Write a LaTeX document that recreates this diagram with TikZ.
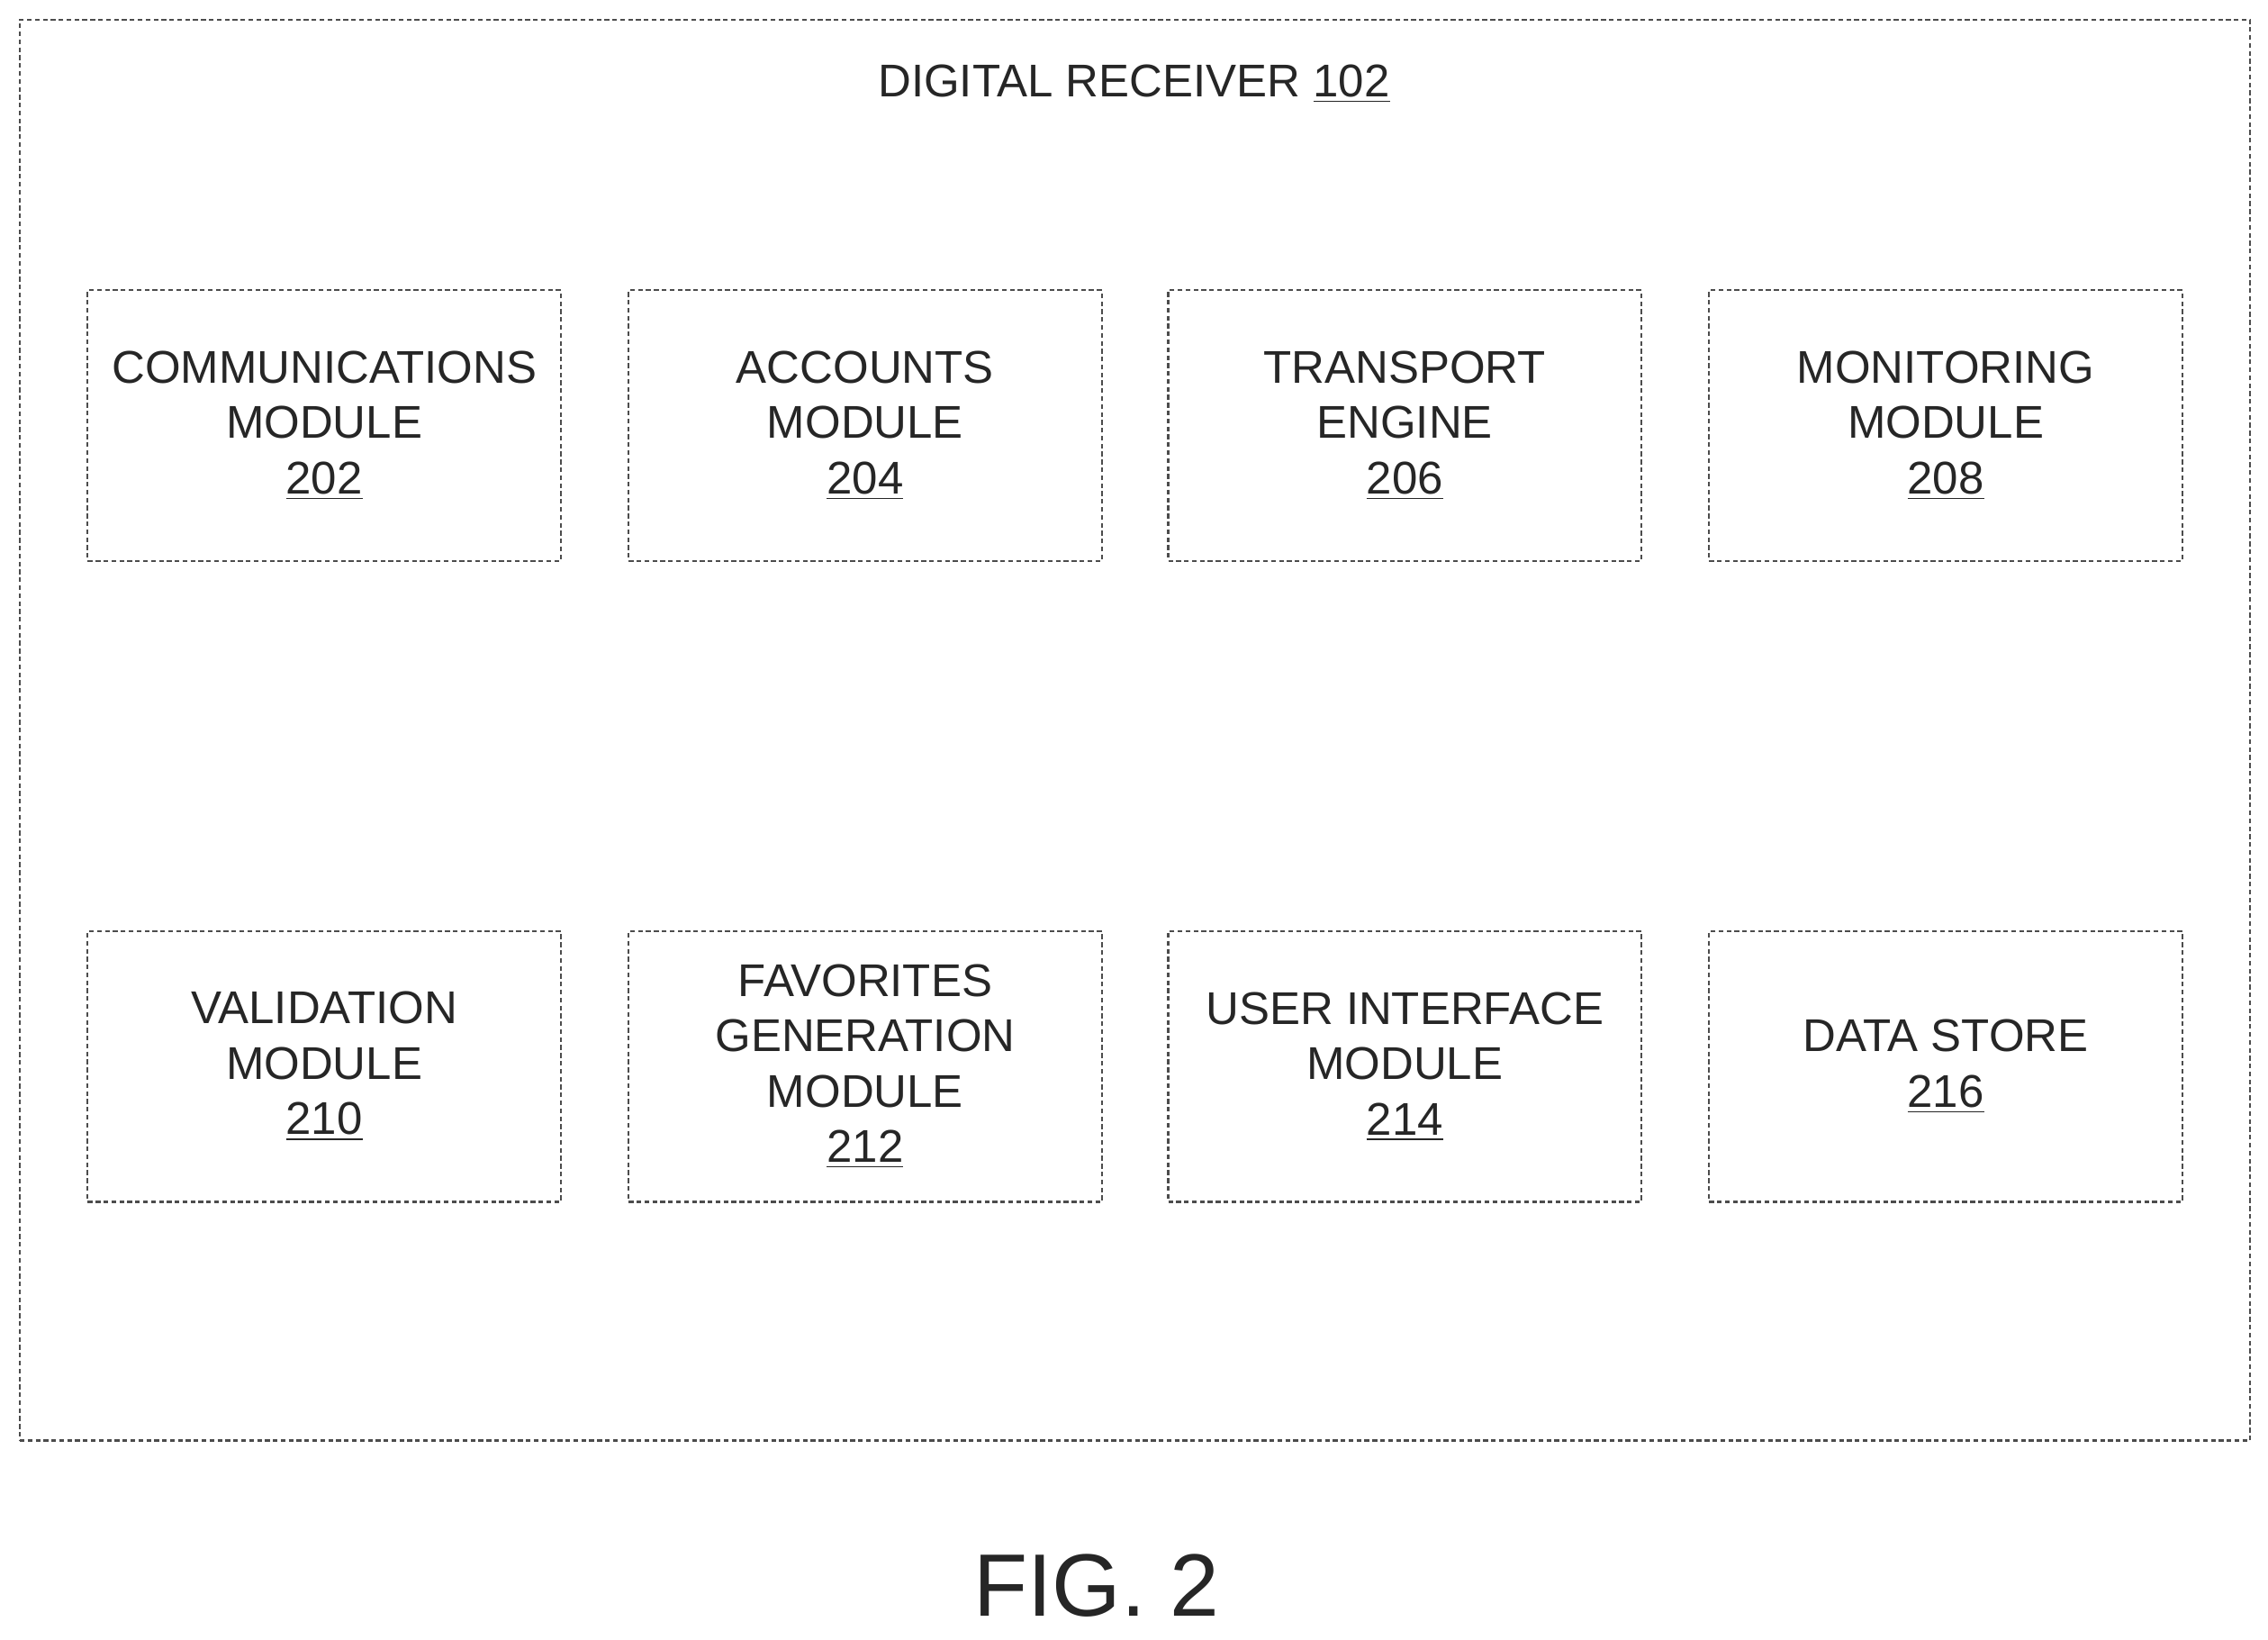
\documentclass[tikz,border=0pt]{standalone}
\usepackage{fontspec}
\setmainfont{Liberation Sans}
\begin{document}
\begin{tikzpicture}[x=0.016065cm,y=-0.016065cm,
  box/.style={draw=black!70,dash pattern=on 1.5pt off 1pt,line width=0.6pt},
  lbl/.style={align=center,font=\fontsize{14.5}{17.5}\selectfont,text=black!85}]
\useasboundingbox (0,0) rectangle (1568,1133);
\node[box,minimum width=1542*0.016065cm,minimum height=982*0.016065cm,anchor=north west] (outer) at (13,13) {};
\node[lbl] (title) at (784,58) {DIGITAL RECEIVER \underline{102}};
\newcommand{\mybox}[4]{%
  \node[box,anchor=north west,minimum width=327*0.016065cm,minimum height=187*0.016065cm] (#1) at (#2,#3) {};
  \node[lbl] (#1t) at (#1.center) {#4};}
\mybox{b202}{60}{200}{COMMUNICATIONS\\MODULE\\\underline{202}}
\mybox{b204}{434}{200}{ACCOUNTS\\MODULE\\\underline{204}}
\mybox{b206}{807}{200}{TRANSPORT\\ENGINE\\\underline{206}}
\mybox{b208}{1181}{200}{MONITORING\\MODULE\\\underline{208}}
\mybox{b210}{60}{643}{VALIDATION\\MODULE\\\underline{210}}
\mybox{b212}{434}{643}{FAVORITES\\GENERATION\\MODULE\\\underline{212}}
\mybox{b214}{807}{643}{USER INTERFACE\\MODULE\\\underline{214}}
\mybox{b216}{1181}{643}{DATA STORE\\\underline{216}}
\node[font=\fontsize{28}{32}\selectfont,text=black!85] (fig) at (758,1096) {FIG. 2};
\end{tikzpicture}
\end{document}
